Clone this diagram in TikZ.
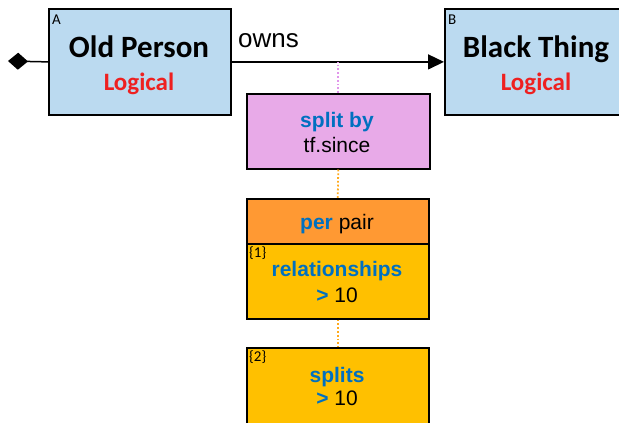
\documentclass[tikz,border=0pt]{standalone}
\usepackage{fontspec}
\setmainfont{Liberation Sans}
\newfontfamily\calib{Carlito}
\usetikzlibrary{arrows.meta}
\definecolor{entblue}{RGB}{187,218,240}
\definecolor{splitpink}{RGB}{232,170,232}
\definecolor{perorange}{RGB}{255,153,51}
\definecolor{condgold}{RGB}{255,192,0}
\definecolor{kwblue}{RGB}{0,112,192}
\definecolor{logred}{RGB}{238,32,32}
\definecolor{dotpink}{RGB}{225,150,235}
\definecolor{dotorange}{RGB}{255,170,30}
\tikzset{
  ent/.style={draw, line width=1.8pt, fill=entblue, minimum width=182pt, minimum height=106pt, anchor=north west, inner sep=0pt},
  blk/.style={draw, line width=1.5pt, minimum width=182pt, anchor=north west, inner sep=0pt},
  corner/.style={anchor=base west, inner sep=0pt, font=\calib\fontsize{15}{17}\selectfont},
  title/.style={anchor=base, inner sep=0pt, font=\calib\bfseries\fontsize{31}{36}\selectfont},
  logic/.style={anchor=base, inner sep=0pt, text=logred, font=\calib\bfseries\fontsize{25}{30}\selectfont},
  txt/.style={anchor=base, inner sep=0pt, font=\fontsize{21}{25}\selectfont},
  dotline/.style={line width=1.8pt, dash pattern=on 1.8pt off 2pt},
}
\newcommand{\kwd}[1]{\textcolor{kwblue}{\bfseries #1}}
\begin{document}
\begin{tikzpicture}[x=1pt,y=-1pt]
\useasboundingbox (0,0) rectangle (619,423);
\clip (0,0) rectangle (619,423);
% entities
\node[ent] (A) at (48,8) {};
\node[corner] (Alab) at (52,24) {A};
\node[title] (Aname) at (139,57) {Old Person};
\node[logic] (Alog) at (139,90) {Logical};
\node[ent, minimum width=184pt] (B) at (444,8) {};
\node[corner] (Blab) at (448,24) {B};
\node[title] (Bname) at (536,57) {Black Thing};
\node[logic] (Blog) at (536,90) {Logical};
% connectors
\coordinate (dstart) at (8,61);
\draw[line width=1.5pt, {Diamond[length=20pt,width=17pt]}-] (dstart) -- (A.west);
\draw[line width=1.5pt, -{Triangle[length=16pt,width=15pt]}] (A.east) -- (B.west);
\node[anchor=base west, inner sep=0pt, font=\fontsize{26}{30}\selectfont] (owns) at (238,47) {owns};
% split box
\node[blk, fill=splitpink, minimum width=183pt, minimum height=75pt] (split) at (246,93) {};
\node[txt] (splitt) at (337,127) {\kwd{split by}};
\node[txt] (splitv) at (337,152) {tf.since};
\draw[dotline, dotpink] (split.north) -- (split.north |- A.east);
% per pair
\node[blk, fill=perorange, minimum height=45pt] (per) at (246,198) {};
\node[txt] (pert) at (337,229) {\kwd{per} pair};
\draw[dotline, dotorange] (split.south) -- (per.north);
% relationships
\node[blk, fill=condgold, minimum height=75pt] (rel) at (246,243) {};
\node[corner] (rel1) at (249,257) {\{1\}};
\node[txt] (relt) at (337,276) {\kwd{relationships}};
\node[txt] (relv) at (337,302) {\kwd{>} 10};
% splits
\node[blk, fill=condgold, minimum height=80pt] (spl) at (246,347) {};
\node[corner] (spl2) at (249,361) {\{2\}};
\node[txt] (splt) at (337,382) {\kwd{splits}};
\node[txt] (splv) at (337,405) {\kwd{>} 10};
\draw[dotline, dotorange] (rel.south) -- (spl.north);
\end{tikzpicture}
\end{document}
